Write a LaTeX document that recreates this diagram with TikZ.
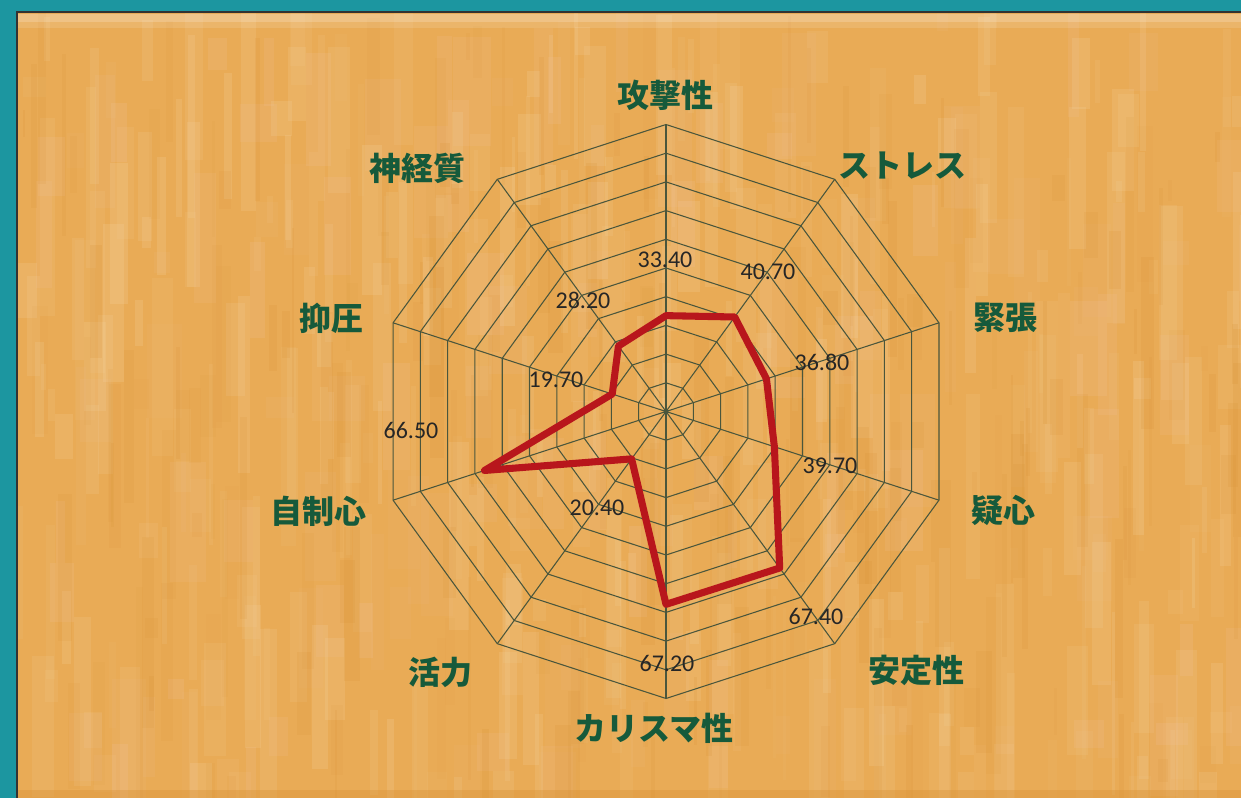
\documentclass[tikz,border=0pt]{standalone}
\usepackage{fontspec}
\setmainfont{Carlito}
\newfontfamily\jp{Noto Sans CJK JP}
\definecolor{tealc}{HTML}{1C96A0}
\definecolor{parch}{HTML}{E9AB56}
\definecolor{parchlight}{HTML}{F7DCB0}
\definecolor{parchpink}{HTML}{F2C6A8}
\definecolor{parchdark}{HTML}{D89034}
\definecolor{gridc}{HTML}{4A563C}
\definecolor{redc}{HTML}{B8161C}
\definecolor{labc}{HTML}{165A3B}
\begin{document}
\begin{tikzpicture}[x=0.75pt,y=-0.75pt,
  gridline/.style={draw=gridc,line width=0.8pt},
  dataline/.style={draw=redc,line width=5.3pt,line join=round},
  axlabel/.style={text=labc,font=\jp\bfseries\fontsize{24}{24}\selectfont,inner sep=0pt},
  vallabel/.style={text=black!85,font=\fontsize{18}{18}\selectfont,inner sep=0pt}]
\useasboundingbox (0,0) rectangle (1241,798);
% frame
\fill[tealc] (0,0) rectangle (1241,798);
\fill[parch] (16,12) rectangle (1241,798);
\begin{scope}
\clip (16,12) rectangle (1241,798);
\pgfmathsetseed{11}
\foreach \n in {1,...,340}{
  \pgfmathsetmacro\xx{16+rnd*1225}
  \pgfmathsetmacro\ww{3+rnd*20}
  \pgfmathsetmacro\yy{rnd*780}
  \pgfmathsetmacro\hh{20+rnd*180}
  \pgfmathsetmacro\op{0.05+rnd*0.13}
  \fill[parchlight,opacity=\op] (\xx,\yy) rectangle ++(\ww,\hh);
}
\foreach \n in {1,...,120}{
  \pgfmathsetmacro\xx{16+rnd*1225}
  \pgfmathsetmacro\ww{8+rnd*30}
  \pgfmathsetmacro\yy{rnd*780}
  \pgfmathsetmacro\hh{20+rnd*120}
  \pgfmathsetmacro\op{0.05+rnd*0.12}
  \fill[parchpink,opacity=\op] (\xx,\yy) rectangle ++(\ww,\hh);
}
\foreach \n in {1,...,200}{
  \pgfmathsetmacro\xx{16+rnd*1225}
  \pgfmathsetmacro\ww{2+rnd*14}
  \pgfmathsetmacro\yy{rnd*780}
  \pgfmathsetmacro\hh{20+rnd*200}
  \pgfmathsetmacro\op{0.05+rnd*0.13}
  \fill[parchdark,opacity=\op] (\xx,\yy) rectangle ++(\ww,\hh);
}
\fill[white,opacity=0.28] (16,14) rectangle (1241,22);
\fill[white,opacity=0.12] (16,22) rectangle (1241,28);
\fill[parchdark,opacity=0.35] (16,790) rectangle (1241,798);
\end{scope}
\draw[black!80,line width=1.5pt] (16.5,798) -- (16.5,12.5) -- (1241,12.5);
% radar grid
\coordinate (c) at (666,411.5);
\foreach \k in {1,...,10}{
  \pgfmathsetmacro\rr{28.7*\k}
  \draw[gridline] (666,{411.5-\rr}) \foreach \i in {1,...,9}{ -- ({666+\rr*cos(90-36*\i)},{411.5-\rr*sin(90-36*\i)}) } -- cycle;
}
\foreach \i in {0,...,9}{
  \coordinate (a\i) at ({666+287*cos(90-36*\i)},{411.5-287*sin(90-36*\i)});
  \draw[gridline] (c) -- (a\i);
}
\fill[gridc] (c) circle (2.4);
% data
\foreach \v [count=\j from 0] in {33.4,40.7,36.8,39.7,67.4,67.2,20.4,66.5,19.7,28.2}{
  \coordinate (p\j) at ({666+2.87*\v*cos(90-36*\j)},{411.5-2.87*\v*sin(90-36*\j)});
}
\draw[dataline] (p0) -- (p1) -- (p2) -- (p3) -- (p4) -- (p5) -- (p6) -- (p7) -- (p8) -- (p9) -- cycle;
% value labels
\node[vallabel] (v0) at (665,260) {33.40};
\node[vallabel] (v1) at (768,272) {40.70};
\node[vallabel] (v2) at (822,362) {36.80};
\node[vallabel] (v3) at (830,466) {39.70};
\node[vallabel] (v4) at (816,616) {67.40};
\node[vallabel] (v5) at (667,663) {67.20};
\node[vallabel] (v6) at (597,508) {20.40};
\node[vallabel] (v7) at (411,430) {66.50};
\node[vallabel] (v8) at (556,380) {19.70};
\node[vallabel] (v9) at (583,300) {28.20};
% axis labels
\node[axlabel] (l0) at (665,95) {攻撃性};
\node[axlabel] (l1) at (902,166) {ストレス};
\node[axlabel] (l2) at (1005,318) {緊張};
\node[axlabel] (l3) at (1003,510) {疑心};
\node[axlabel] (l4) at (916,670) {安定性};
\node[axlabel] (l5) at (654,728) {カリスマ性};
\node[axlabel] (l6) at (440,672) {活力};
\node[axlabel] (l7) at (318,511) {自制心};
\node[axlabel] (l8) at (331,318) {抑圧};
\node[axlabel] (l9) at (417,168) {神経質};
\end{tikzpicture}
\end{document}
